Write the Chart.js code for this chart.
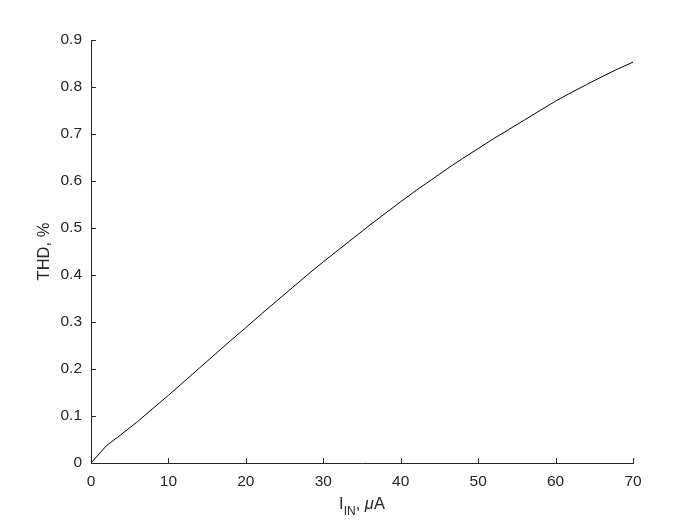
<!DOCTYPE html>
<html>
<head>
<meta charset="utf-8">
<script src="https://cdn.jsdelivr.net/npm/chart.js@4"></script>
<style>
html,body{margin:0;padding:0;background:#fff;}
#wrap{width:700px;height:525px;position:relative;}
</style>
</head>
<body>
<div id="wrap"><canvas id="c" width="700" height="525"></canvas></div>
<script>
const currentUA = [0,2,4,6,8,10,12,14,16,18,20,22,24,26,28,30,32,34,36,38,40,42,44,46,48,50,52,54,56,58,60,62,64,66,68,70];
const thdPercent = [0,0.037,0.062,0.088,0.116,0.144,0.173,0.202,0.231,0.260,0.288,0.317,0.345,0.373,0.401,0.428,0.454,0.480,0.506,0.531,0.556,0.580,0.603,0.626,0.648,0.669,0.690,0.710,0.730,0.750,0.770,0.788,0.805,0.822,0.838,0.853];
const xTicks = [0,10,20,30,40,50,60,70];
const yTicks = [0,0.1,0.2,0.3,0.4,0.5,0.6,0.7,0.8,0.9];
const yTitle = 'THD, %';
const xTitleMain = 'I';
const xTitleSub = 'IN';

const axisColor = '#262626';
const fontFam = '"Liberation Sans", Arial, Helvetica, sans-serif';
const tickFont = 15.5;
const titleFont = 16.5;

const inwardTicks = {
  id: 'inwardTicks',
  afterDraw(chart) {
    const ctx = chart.ctx;
    const xs = chart.scales.x, ys = chart.scales.y;
    const a = chart.chartArea;
    ctx.save();
    ctx.strokeStyle = axisColor;
    ctx.lineWidth = 1;
    ctx.beginPath();
    xTicks.forEach(v => {
      const px = Math.round(xs.getPixelForValue(v)) + 0.5;
      ctx.moveTo(px, a.bottom);
      ctx.lineTo(px, a.bottom - 5);
    });
    yTicks.forEach(v => {
      const py = Math.round(ys.getPixelForValue(v)) + 0.5;
      ctx.moveTo(a.left, py);
      ctx.lineTo(a.left + 5, py);
    });
    ctx.stroke();
    ctx.fillStyle = axisColor;
    // y title
    ctx.save();
    ctx.translate(49, (a.top + a.bottom) / 2);
    ctx.rotate(-Math.PI / 2);
    ctx.textAlign = 'center';
    ctx.textBaseline = 'alphabetic';
    ctx.font = titleFont + 'px ' + fontFam;
    ctx.fillText(yTitle, 0, 0);
    ctx.restore();
    // x title with subscript
    ctx.textBaseline = 'alphabetic';
    const subSize = 12;
    ctx.font = titleFont + 'px ' + fontFam;
    const wMain = ctx.measureText(xTitleMain).width;
    ctx.font = subSize + 'px ' + fontFam;
    const wSub = ctx.measureText(xTitleSub).width;
    ctx.font = titleFont + 'px ' + fontFam;
    const wComma = ctx.measureText(', ').width;
    ctx.font = 'italic ' + titleFont + 'px ' + fontFam;
    const wMu = ctx.measureText('\u03BC').width;
    ctx.font = titleFont + 'px ' + fontFam;
    const wA = ctx.measureText('A').width;
    const total = wMain + wSub + wComma + wMu + wA;
    const cx = (a.left + a.right) / 2;
    let x = cx - total / 2;
    const base = 509;
    ctx.textAlign = 'left';
    ctx.font = titleFont + 'px ' + fontFam;
    ctx.fillText(xTitleMain, x, base); x += wMain;
    ctx.font = subSize + 'px ' + fontFam;
    ctx.fillText(xTitleSub, x, base + 6); x += wSub;
    ctx.font = titleFont + 'px ' + fontFam;
    ctx.fillText(', ', x, base); x += wComma;
    ctx.font = 'italic ' + titleFont + 'px ' + fontFam;
    ctx.fillText('\u03BC', x, base); x += wMu;
    ctx.font = titleFont + 'px ' + fontFam;
    ctx.fillText('A', x, base);
    ctx.restore();
  }
};

new Chart(document.getElementById('c'), {
  type: 'line',
  data: {
    datasets: [{
      data: currentUA.map((v, i) => ({x: v, y: thdPercent[i]})),
      borderColor: '#000000',
      borderWidth: 1,
      pointRadius: 0,
      tension: 0,
      fill: false
    }]
  },
  options: {
    responsive: false,
    animation: false,
    devicePixelRatio: 1,
    layout: { padding: { left: 0, right: 67, top: 40, bottom: 0 } },
    plugins: { legend: { display: false }, tooltip: { enabled: false } },
    scales: {
      x: {
        type: 'linear',
        min: 0, max: 70,
        afterBuildTicks(s) { s.ticks = xTicks.map(v => ({value: v})); },
        afterFit(s) { s.height = 62; },
        grid: { display: false, drawTicks: false },
        border: { display: true, color: axisColor, width: 1 },
        ticks: {
          color: axisColor,
          font: { family: fontFam, size: tickFont },
          padding: 9,
          maxRotation: 0,
          callback: v => String(v)
        }
      },
      y: {
        type: 'linear',
        min: 0, max: 0.9,
        afterBuildTicks(s) { s.ticks = yTicks.map(v => ({value: v})); },
        afterFit(s) { s.width = 91; },
        grid: { display: false, drawTicks: false },
        border: { display: true, color: axisColor, width: 1 },
        ticks: {
          color: axisColor,
          font: { family: fontFam, size: tickFont },
          padding: 9,
          callback: v => (Math.round(v * 10) / 10).toString()
        }
      }
    }
  },
  plugins: [inwardTicks]
});
</script>
</body>
</html>
